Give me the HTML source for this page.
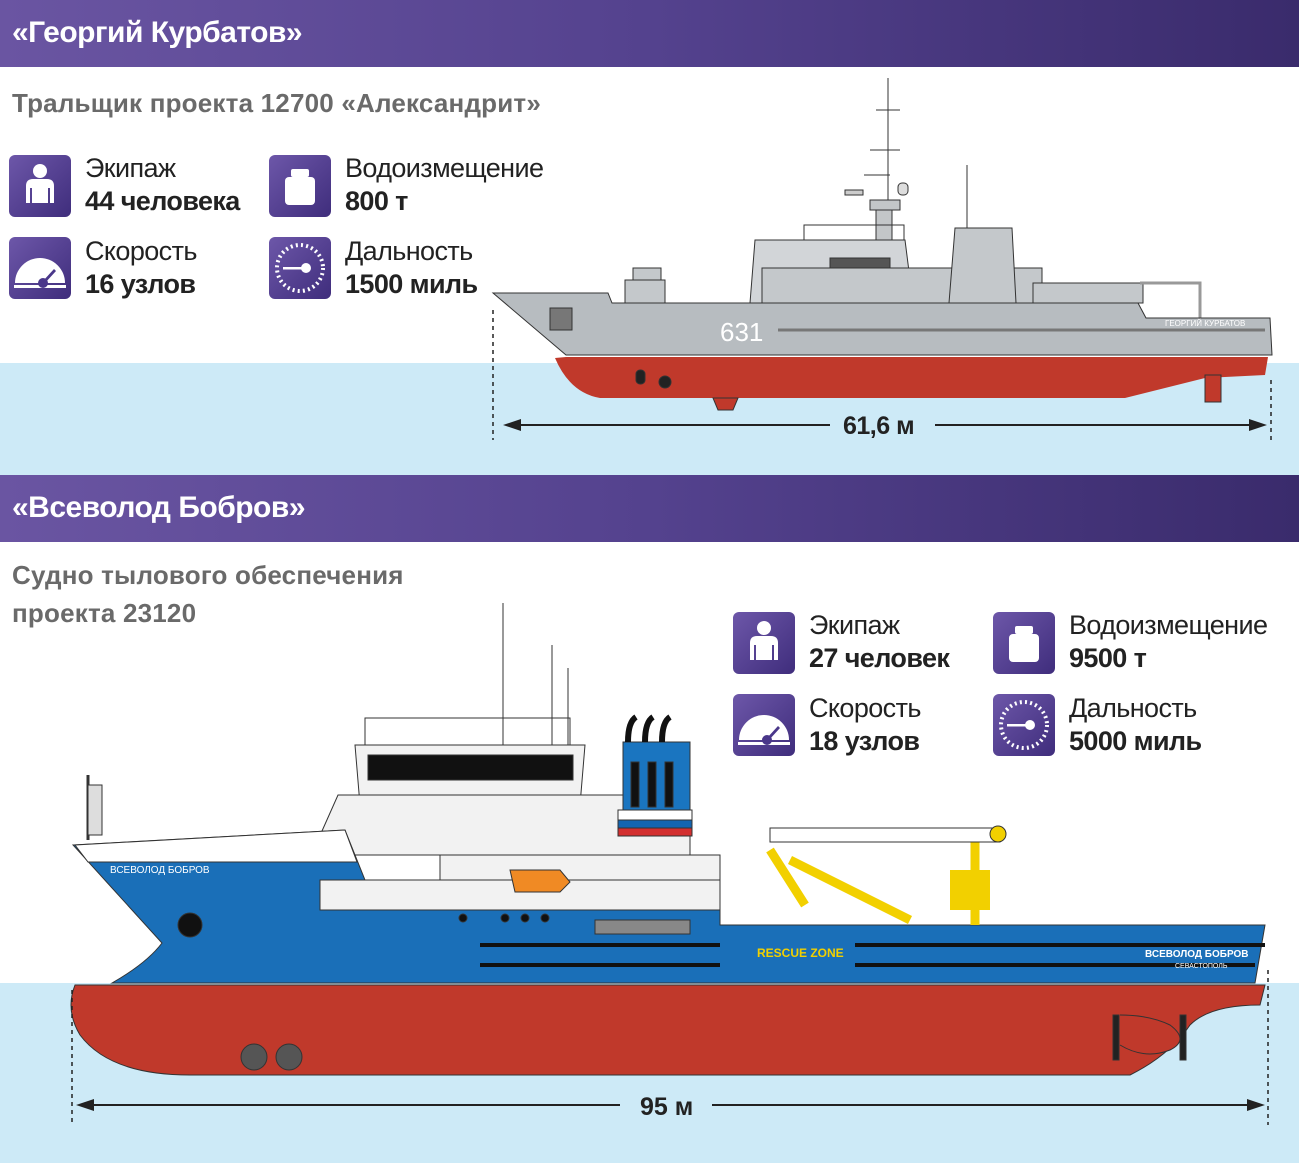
<!DOCTYPE html>
<html><head><meta charset="utf-8"><style>
*{margin:0;padding:0;box-sizing:border-box}
body{width:1299px;height:1163px;position:relative;background:#fff;overflow:hidden;font-family:"Liberation Sans",sans-serif}
.hdr{position:absolute;left:0;width:1299px;height:67px;background:linear-gradient(to right,#6a55a2,#54428e 50%,#3a2b6c);color:#fff;font-size:30px;font-weight:bold;padding:16px 0 0 12px;letter-spacing:-0.5px}
.water{position:absolute;left:0;width:1299px;background:#cdeaf7}
.sub{position:absolute;color:#6a6a6a;font-size:26px;font-weight:bold;line-height:38px;letter-spacing:0.2px}
.ic{position:absolute;width:62px;height:62px;border-radius:6px;background:linear-gradient(135deg,#6d57a9,#3f2d7c)}
.lb{position:absolute;font-size:27px;line-height:33px;color:#222;letter-spacing:-0.6px}
.lb b{display:block;font-weight:bold}
</style></head><body>
<div class="water" style="top:363px;height:112px"></div>
<div class="water" style="top:983px;height:180px"></div>
<div class="hdr" style="top:0">«Георгий Курбатов»</div>
<div class="hdr" style="top:475px">«Всеволод Бобров»</div>
<div class="sub" style="left:12px;top:84px">Тральщик проекта 12700 «Александрит»</div>
<div class="sub" style="left:12px;top:556px">Судно тылового обеспечения<br>проекта 23120</div>

<svg width="0" height="0" style="position:absolute"><defs>
<g id="person"><circle cx="31" cy="16" r="7" fill="#fff"/><path d="M17 48V31q0-7 7-7h14q7 0 7 7v17h-4V33h-2v15H23V33h-2v15z" fill="#fff"/></g>
<g id="weight"><rect x="22" y="14" width="18" height="8" rx="2" fill="#fff"/><rect x="16" y="22" width="30" height="28" rx="4" fill="#fff"/></g>
<g id="speed"><path d="M6 46A25 25 0 0 1 56 46z" fill="#fff"/><rect x="5" y="48" width="52" height="3" fill="#fff"/><circle cx="34" cy="46" r="5" fill="#4a378a"/><path d="M34 44l11-12 2 2-11 12z" fill="#4a378a"/></g>
<g id="dial"><circle cx="31" cy="31" r="23" fill="none" stroke="#fff" stroke-width="4" stroke-dasharray="2 3.2"/><circle cx="37" cy="31" r="5" fill="#fff"/><rect x="14" y="30" width="22" height="2.5" fill="#fff"/></g>
</defs></svg>

<div class="ic" style="left:9px;top:155px"><svg width="62" height="62"><use href="#person"/></svg></div>
<div class="ic" style="left:269px;top:155px"><svg width="62" height="62"><use href="#weight"/></svg></div>
<div class="ic" style="left:9px;top:237px"><svg width="62" height="62"><use href="#speed"/></svg></div>
<div class="ic" style="left:269px;top:237px"><svg width="62" height="62"><use href="#dial"/></svg></div>
<div class="lb" style="left:85px;top:152px">Экипаж<b>44 человека</b></div>
<div class="lb" style="left:345px;top:152px">Водоизмещение<b>800 т</b></div>
<div class="lb" style="left:85px;top:235px">Скорость<b>16 узлов</b></div>
<div class="lb" style="left:345px;top:235px">Дальность<b>1500 миль</b></div>

<div class="ic" style="left:733px;top:612px"><svg width="62" height="62"><use href="#person"/></svg></div>
<div class="ic" style="left:993px;top:612px"><svg width="62" height="62"><use href="#weight"/></svg></div>
<div class="ic" style="left:733px;top:694px"><svg width="62" height="62"><use href="#speed"/></svg></div>
<div class="ic" style="left:993px;top:694px"><svg width="62" height="62"><use href="#dial"/></svg></div>
<div class="lb" style="left:809px;top:609px">Экипаж<b>27 человек</b></div>
<div class="lb" style="left:1069px;top:609px">Водоизмещение<b>9500 т</b></div>
<div class="lb" style="left:809px;top:692px">Скорость<b>18 узлов</b></div>
<div class="lb" style="left:1069px;top:692px">Дальность<b>5000 миль</b></div>

<svg style="position:absolute;left:0;top:0" width="1299" height="1163">
<!-- SHIP 1 -->
<g stroke="#333" stroke-width="1">
<line x1="888" y1="78" x2="888" y2="240"/>
<line x1="967" y1="165" x2="967" y2="275"/>
<path d="M876 110h24M870 150h30M864 175h26" />
<rect x="898" y="183" width="10" height="12" rx="4" fill="#ddd"/>
<rect x="845" y="190" width="18" height="5" fill="#ccc"/>
<rect x="870" y="200" width="30" height="10" fill="#c3c6c8"/>
<rect x="876" y="210" width="16" height="30" fill="#c3c6c8"/>
<rect x="804" y="225" width="100" height="15" fill="none"/>
<path d="M750 303l5-63h150l8 63z" fill="#d2d5d8"/>
<path d="M762 268h280v35h-280z" fill="#c4c8cb"/>
<path d="M949 303l6-75h57l4 75z" fill="#c4c8cb"/>
<rect x="830" y="258" width="60" height="10" fill="#555"/>
<rect x="625" y="280" width="40" height="23" fill="#c4c8cb"/>
<rect x="633" y="268" width="28" height="12" fill="#c4c8cb"/>
<rect x="1033" y="283" width="110" height="20" fill="#c4c8cb"/>
<path d="M1140 283h60v35" fill="none" stroke-width="3" stroke="#999"/>
<path d="M493 293h115l4 10h526l8 15h124l2 37H566z" fill="#b7bcc0"/>
<path d="M566 357h702l-3 18-60 3-80 20H600q-30-5-45-40z" fill="#c0392b" stroke="none"/>
<path d="M713 398h25l-5 12h-15z" fill="#c0392b"/>
<rect x="1205" y="375" width="16" height="27" fill="#c0392b"/>
<line x1="778" y1="330" x2="1265" y2="330" stroke-width="3" stroke="#777"/>
<rect x="550" y="308" width="22" height="22" fill="#777"/>
<rect x="636" y="370" width="9" height="14" rx="4" fill="#222"/>
<circle cx="665" cy="382" r="6" fill="#222"/>
</g>
<text x="720" y="341" fill="#fff" font-size="26" font-family="Liberation Sans,sans-serif">631</text>
<text x="1165" y="326" fill="#fff" font-size="8" font-family="Liberation Sans,sans-serif">ГЕОРГИЙ КУРБАТОВ</text>
<g stroke="#222" stroke-dasharray="4 4" stroke-width="1.5"><line x1="493" y1="310" x2="493" y2="440"/><line x1="1271" y1="380" x2="1271" y2="440"/></g>
<g stroke="#222" stroke-width="2"><line x1="515" y1="425" x2="830" y2="425"/><line x1="935" y1="425" x2="1255" y2="425"/></g>
<path d="M503 425l18-6v12z M1267 425l-18-6v12z" fill="#222"/>
<text x="843" y="434" font-size="25" font-weight="bold" fill="#222" font-family="Liberation Sans,sans-serif" letter-spacing="-0.5">61,6 м</text>

<!-- SHIP 2 -->
<g stroke="#333" stroke-width="1">
<line x1="503" y1="603" x2="503" y2="745"/>
<line x1="552" y1="645" x2="552" y2="745"/>
<line x1="568" y1="668" x2="568" y2="745"/>
<rect x="365" y="718" width="205" height="27" fill="none"/>
<path d="M355 745h230l-5 60H360z" fill="#f2f2f2"/>
<path d="M368 755h205v25H368z" fill="#111"/>
<path d="M318 840l20-45h352v60H320z" fill="#f2f2f2"/>
<rect x="623" y="742" width="67" height="68" fill="#1a75c0"/>
<path d="M631 762h8v45h-8zM648 762h8v45h-8zM665 762h8v45h-8z" fill="#111"/>
<rect x="618" y="810" width="74" height="10" fill="#fff"/>
<rect x="618" y="820" width="74" height="8" fill="#1565b0"/>
<rect x="618" y="828" width="74" height="8" fill="#d32f2f"/>
<path d="M628 742q0-20 8-25M645 742q0-20 8-25M662 742q0-20 8-25" stroke="#111" stroke-width="6" fill="none"/>
<path d="M73 845l272-15 20 50 200 30h155v15h545l-10 58H112q35-20 50-40z" fill="#1a6fb8"/>
<path d="M75 845l270-15 12 32H88z" fill="#fff"/>
<path d="M320 880h400v30H320z" fill="#f2f2f2"/>
<path d="M440 855h280v25H440z" fill="#f2f2f2"/>
<path d="M510 870h50l10 12-10 10h-45z" fill="#f08a24"/>
<g fill="none" stroke="#f2d000" stroke-width="9"><path d="M770 850l35 55M790 860l120 60M975 835v90"/></g>
<rect x="770" y="828" width="230" height="14" fill="#fff"/>
<circle cx="998" cy="834" r="8" fill="#f2d000"/>
<rect x="950" y="870" width="40" height="40" fill="#f2d000" stroke="none"/>
<path d="M480 945h240M755 945h510M480 965h240M755 965h500" stroke="#111" stroke-width="4"/>
<rect x="755" y="937" width="100" height="30" fill="#1a6fb8" stroke="none"/>
<path d="M110 985h1155l-5 20q-50 0-70 20-20 30-60 50H190q-80 0-110-40-15-25-5-50z" fill="#c0392b"/>
<path d="M1120 1015q30 0 50 10 20 15 0 25-25 10-50-5" fill="#c0392b"/>
<rect x="1113" y="1015" width="6" height="45" fill="#222"/><rect x="1180" y="1015" width="6" height="45" fill="#222"/>
<circle cx="254" cy="1057" r="13" fill="#555"/><circle cx="289" cy="1057" r="13" fill="#555"/>
<circle cx="190" cy="925" r="12" fill="#111"/>
<path d="M88 775v65" stroke-width="3"/><rect x="88" y="785" width="14" height="50" fill="#ddd"/>
<rect x="595" y="920" width="95" height="14" fill="#888"/>
<circle cx="463" cy="918" r="4" fill="#111"/><circle cx="505" cy="918" r="4" fill="#111"/><circle cx="525" cy="918" r="4" fill="#111"/><circle cx="545" cy="918" r="4" fill="#111"/>
</g>
<text x="757" y="957" fill="#f2d000" font-size="12" font-weight="bold" font-family="Liberation Sans,sans-serif">RESCUE ZONE</text>
<text x="110" y="873" fill="#fff" font-size="10" font-family="Liberation Sans,sans-serif">ВСЕВОЛОД БОБРОВ</text>
<text x="1145" y="957" fill="#fff" font-size="10" font-weight="bold" font-family="Liberation Sans,sans-serif">ВСЕВОЛОД БОБРОВ</text>
<text x="1175" y="968" fill="#fff" font-size="7" font-family="Liberation Sans,sans-serif">СЕВАСТОПОЛЬ</text>
<g stroke="#222" stroke-dasharray="4 4" stroke-width="1.5"><line x1="72" y1="990" x2="72" y2="1125"/><line x1="1268" y1="970" x2="1268" y2="1125"/></g>
<g stroke="#222" stroke-width="2"><line x1="90" y1="1105" x2="620" y2="1105"/><line x1="712" y1="1105" x2="1250" y2="1105"/></g>
<path d="M76 1105l18-6v12z M1265 1105l-18-6v12z" fill="#222"/>
<text x="640" y="1115" font-size="25" font-weight="bold" fill="#222" font-family="Liberation Sans,sans-serif">95 м</text>
</svg>
</body></html>
